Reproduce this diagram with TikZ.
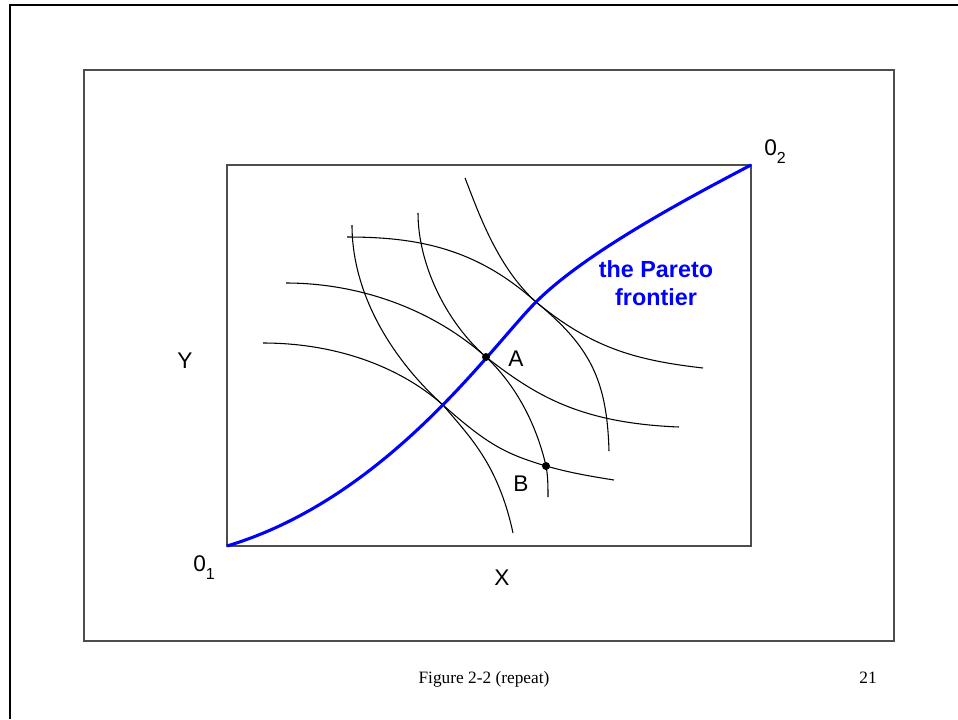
\documentclass[tikz,border=0pt]{standalone}
\usepackage{fontspec}
\setmainfont{Liberation Serif}
\setsansfont{Liberation Sans}
\usetikzlibrary{positioning}
\definecolor{frontierblue}{HTML}{0000FF}
\definecolor{boxgrey}{HTML}{4D4D4D}

\begin{document}
\begin{tikzpicture}[x=0.75pt, y=-0.75pt,
    curve/.style={black, line width=0.8pt},
    frontier/.style={frontierblue, line width=2.3pt},
    lab/.style={font=\sffamily\fontsize{17}{20}\selectfont, inner sep=0pt, anchor=base},
    dotmark/.style={circle, fill=black, inner sep=0pt, minimum size=6pt}]
  \useasboundingbox (0,0) rectangle (958,719);
  % page edge and frames
  \draw[line width=1.6pt] (10,719) -- (10,5) -- (958,5);
  \draw[boxgrey, line width=1pt] (84,70) rectangle (894,641);
  \draw[boxgrey, line width=0.9pt] (227,165) rectangle (751,546);
  \coordinate (o1) at (227,546);
  \coordinate (o2) at (751,165);
  \coordinate (t1) at (536,302);
  \coordinate (pA) at (486,357);
  \coordinate (t3) at (443,405);
  \coordinate (pB) at (546,466);
  % indifference curves, flat family
  \draw[curve] (347,237) .. controls (417,237) and (476,248) .. (t1)
    .. controls (591,347) and (633,360) .. (703,368);
  \draw[curve] (286,283) .. controls (356,283) and (430,307) .. (pA)
    .. controls (535,395) and (579,423) .. (679,427);
  \draw[curve] (263,343) .. controls (333,343) and (398,365) .. (t3)
    .. controls (488,445) and (506,454) .. (pB)
    .. controls (571,473) and (589,476) .. (614,480);
  % indifference curves, steep family
  \draw[curve] (352,225) .. controls (352,295) and (393,360) .. (t3)
    .. controls (468,435) and (498,463) .. (513,533);
  \draw[curve] (418,213) .. controls (418,263) and (445,321) .. (pA)
    .. controls (520,389) and (538,431) .. (pB)
    .. controls (548,476) and (548,487) .. (548,497);
  \draw[curve] (465,178) .. controls (477,208) and (496,266) .. (t1)
    .. controls (591,347) and (607,381) .. (609,451);
  % contract curve
  \draw[frontier] (o1) .. controls (387,498) and (491,347) .. (t1)
    .. controls (586,252) and (690,197) .. (o2);
  \foreach \pt in {pA, pB}{%
    \node[dotmark] (dot\pt) at (\pt) {};}
  % labels
  \node[lab] (labY) at (185,368) {Y};
  \node[lab] (labX) at (502,585) {X};
  \node[lab] (labA) at (516,366) {A};
  \node[lab] (labB) at (521,491) {B};
  \node[lab, anchor=base west] (lab01) at (193,571)
    {0\raisebox{-6pt}{\fontsize{12}{14}\selectfont 1}};
  \node[lab, anchor=base west] (lab02) at (764,155)
    {0\raisebox{-6pt}{\fontsize{12}{14}\selectfont 2}};
  \node[lab, font=\sffamily\bfseries\fontsize{17.5}{20}\selectfont,
    text=frontierblue] (pareto1) at (656,277) {the Pareto};
  \node[lab, font=\sffamily\bfseries\fontsize{17.5}{20}\selectfont,
    text=frontierblue] (pareto2) at (656,305) {frontier};
  \node[font=\fontsize{13}{15}\selectfont, inner sep=0pt, anchor=base]
    (caption) at (484,683) {Figure 2-2 (repeat)};
  \node[font=\fontsize{13}{15}\selectfont, inner sep=0pt, anchor=base]
    (pageno) at (868,683) {21};
\end{tikzpicture}
\end{document}
